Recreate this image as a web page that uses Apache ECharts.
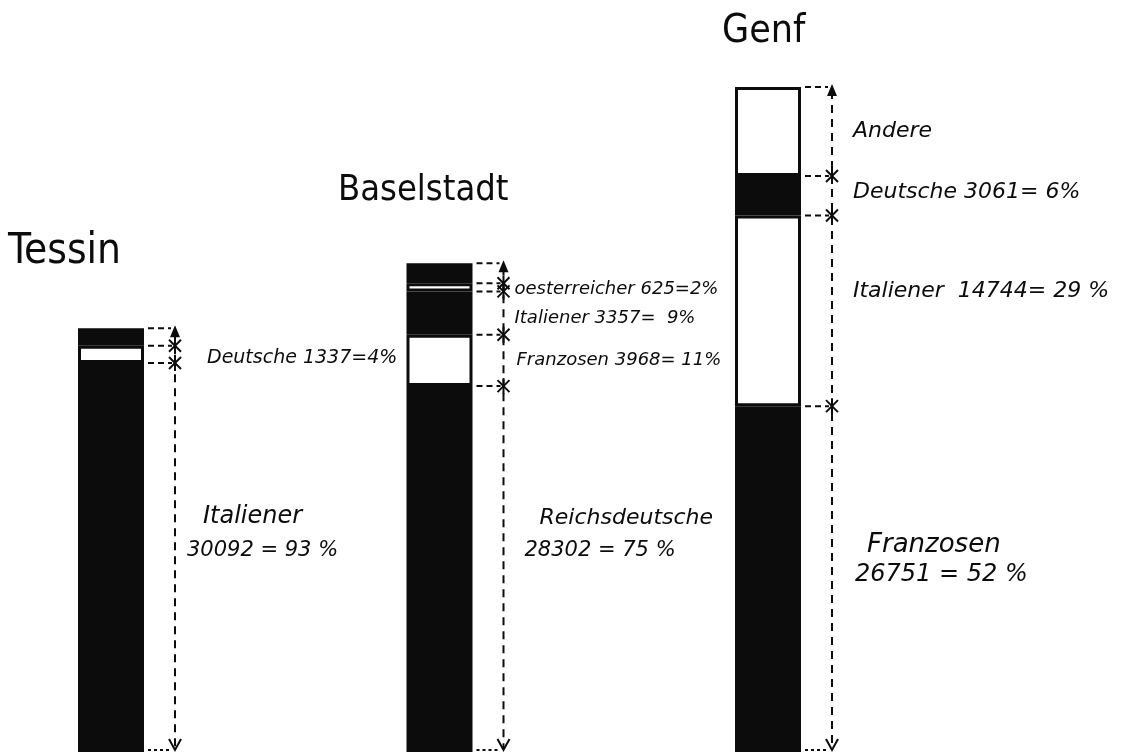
<!DOCTYPE html>
<html>
<head>
<meta charset="UTF-8">
<title>Ausländer nach Nationalität</title>
<style>
html, body { margin: 0; padding: 0; background: #fff; }
#main { width: 1132px; height: 754px; }
</style>
</head>
<body>
<div id="main"></div>
<script src="https://cdn.jsdelivr.net/npm/echarts@6/dist/echarts.min.js"></script>
<script>
// Kantone
var cities = ['Tessin', 'Baselstadt', 'Genf'];

// Segmente von unten nach oben
var tessinNames = ['Italiener', 'Deutsche', 'Andere'];
var tessinValues = [30092, 1337, 1350];
var baselNames = ['Reichsdeutsche', 'Franzosen', 'Italiener', 'Oesterreicher', 'Andere'];
var baselValues = [28302, 3968, 3357, 625, 1550];
var genfNames = ['Franzosen', 'Italiener', 'Deutsche', 'Andere'];
var genfValues = [26751, 14744, 3061, 6888];

// Beschriftungen wie gedruckt
var tessinText = [['Italiener', '30092 = 93 %'], ['Deutsche 1337=4%'], []];
var baselText = [['Reichsdeutsche', '28302 = 75 %'], ['Franzosen 3968= 11%'], ['Italiener 3357=  9%'], ['oesterreicher 625=2%'], []];
var genfText = [['Franzosen', '26751 = 52 %'], ['Italiener  14744= 29 %'], ['Deutsche 3061= 6%'], ['Andere']];

var cityValues = [tessinValues, baselValues, genfValues];
var cityText = [tessinText, baselText, genfText];

// Lage der Texte relativ zur Masslinie / Segmentmitte (nur Layout)
var textPlace = [
	[[[28, -41], [12, -7]], [[32, 4]], []],
	[[[36, -51], [21, -19]], [[13, 0]], [[11, 5]], [[11, 2]], []],
	[[[35, -34], [23, -4]], [[21, -20]], [[21, -3]], [[21, 0]]]
];
// [Segment, Name unten, Zahl unten]
var fontSizes = [[19, 24, 21], [18, 22, 21], [22, 26, 24]];

var ink = '#0c0c0c';
var labelFont = '"DejaVu Sans", sans-serif';

function renderItem(params, api) {
	var i = params.dataIndex;
	var vals = cityValues[i];
	var cum = [0];
	for (var k = 0; k < vals.length; k++) cum.push(cum[k] + vals[k]);
	var ys = cum.map(function (v) { return api.coord([i, v])[1]; });
	var cx = api.coord([i, 0])[0];
	var lineX = cx + 64;
	var barR = cx + 35;
	var topY = ys[ys.length - 1];
	var botY = ys[0];
	var ch = [];

	// Masslinie
	ch.push({ type: 'line', shape: { x1: lineX, y1: topY + 4, x2: lineX, y2: botY - 4 },
		style: { stroke: ink, lineWidth: 2, lineDash: [8, 6] } });
	// oben
	ch.push({ type: 'line', shape: { x1: barR + 2, y1: topY, x2: lineX - 4, y2: topY },
		style: { stroke: ink, lineWidth: 2, lineDash: [6, 4] } });
	ch.push({ type: 'polygon', shape: { points: [[lineX, topY - 3], [lineX - 5, topY + 9], [lineX + 5, topY + 9]] },
		style: { fill: ink } });
	// unten
	ch.push({ type: 'line', shape: { x1: barR + 2, y1: botY - 2, x2: lineX - 4, y2: botY - 2 },
		style: { stroke: ink, lineWidth: 2, lineDash: [3, 3] } });
	ch.push({ type: 'polyline', shape: { points: [[lineX - 6, botY - 13], [lineX, botY - 2], [lineX + 6, botY - 13]] },
		style: { stroke: ink, lineWidth: 2, fill: null } });

	// Grenzen
	for (var b = 1; b < ys.length - 1; b++) {
		var y = ys[b];
		ch.push({ type: 'line', shape: { x1: barR + 2, y1: y, x2: lineX - 3, y2: y },
			style: { stroke: ink, lineWidth: 2, lineDash: [6, 4] } });
		ch.push({ type: 'line', shape: { x1: lineX - 6, y1: y - 6, x2: lineX + 6, y2: y + 6 },
			style: { stroke: ink, lineWidth: 2 } });
		ch.push({ type: 'line', shape: { x1: lineX + 6, y1: y - 6, x2: lineX - 6, y2: y + 6 },
			style: { stroke: ink, lineWidth: 2 } });
		ch.push({ type: 'line', shape: { x1: lineX, y1: y - 8, x2: lineX, y2: y + 8 },
			style: { stroke: ink, lineWidth: 2 } });
	}

	// Texte
	var texts = cityText[i];
	for (var j = 0; j < texts.length; j++) {
		var mid = (ys[j] + ys[j + 1]) / 2;
		for (var l = 0; l < texts[j].length; l++) {
			var p = textPlace[i][j][l];
			var size = j === 0 ? fontSizes[i][1 + l] : fontSizes[i][0];
			ch.push({ type: 'text', x: lineX + p[0], y: mid + p[1],
				style: { text: texts[j][l], fill: ink, fontSize: size, fontStyle: 'italic',
					fontFamily: labelFont, align: 'left', verticalAlign: 'middle' } });
		}
	}
	return { type: 'group', children: ch };
}

var series = [];
var levels = Math.max.apply(null, cityValues.map(function (v) { return v.length; }));
for (var k = 0; k < levels; k++) {
	series.push({
		type: 'bar',
		stack: 'total',
		barWidth: 66,
		silent: true,
		data: cityValues.map(function (v) { return v[k] === undefined ? '-' : v[k]; }),
		itemStyle: { color: k % 2 ? '#ffffff' : ink, borderColor: ink, borderWidth: 3 }
	});
}
series.push({
	type: 'custom',
	renderItem: renderItem,
	silent: true,
	z: 10,
	encode: { x: 0, y: 1 },
	data: cityValues.map(function (v, i) {
		return [i, v.reduce(function (a, c) { return a + c; }, 0)];
	})
});

function titleStyle(size) {
	return { fontFamily: '"DejaVu Sans Condensed", "DejaVu Sans", sans-serif', fontSize: size, fontWeight: 'normal', color: ink };
}
var option = {
	animation: false,
	backgroundColor: '#ffffff',
	title: [
		{ text: cities[0], left: 8, top: 231, padding: 0, textStyle: titleStyle(42) },
		{ text: cities[1], left: 338, top: 173, padding: 0, textStyle: titleStyle(36) },
		{ text: cities[2], left: 722, top: 12, padding: 0, textStyle: titleStyle(39) }
	],
	grid: { left: 111, right: 364, top: 28, bottom: 2 },
	xAxis: { type: 'category', data: cities, boundaryGap: false, show: false },
	yAxis: { type: 'value', min: 0, max: 56000, show: false },
	series: series
};

var myChart = echarts.init(document.getElementById('main'));
myChart.setOption(option);
</script>
</body>
</html>
